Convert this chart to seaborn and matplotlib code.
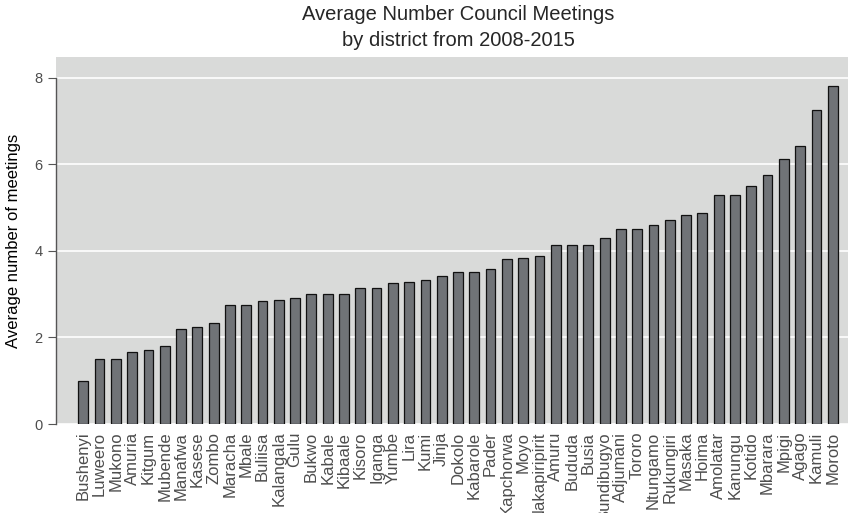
import pandas as pd
import matplotlib
matplotlib.use("Agg")
import matplotlib.pyplot as plt
import seaborn as sns

# values
districts = [
    "Bushenyi", "Luweero", "Mukono", "Amuria", "Kitgum", "Mubende", "Manafwa",
    "Kasese", "Zombo", "Maracha", "Mbale", "Buliisa", "Kalangala", "Gulu",
    "Bukwo", "Kabale", "Kibaale", "Kisoro", "Iganga", "Yumbe", "Lira", "Kumi",
    "Jinja", "Dokolo", "Kabarole", "Pader", "Kapchorwa", "Moyo",
    "Nakapiripirit", "Amuru", "Bududa", "Busia", "Bundibugyo", "Adjumani",
    "Tororo", "Ntungamo", "Rukungiri", "Masaka", "Hoima", "Amolatar",
    "Kanungu", "Kotido", "Mbarara", "Mpigi", "Agago", "Kamuli", "Moroto",
]
meetings = [
    1.0, 1.5, 1.5, 1.67, 1.71, 1.8, 2.2,
    2.25, 2.33, 2.75, 2.75, 2.83, 2.86, 2.9,
    3.0, 3.0, 3.0, 3.13, 3.14, 3.25, 3.29, 3.33,
    3.43, 3.5, 3.5, 3.57, 3.8, 3.83,
    3.88, 4.13, 4.13, 4.13, 4.29, 4.5,
    4.5, 4.6, 4.71, 4.83, 4.88, 5.29,
    5.29, 5.5, 5.75, 6.13, 6.43, 7.25, 7.8,
]
y_ticks = [0, 2, 4, 6, 8]

df = pd.DataFrame({"district": districts, "meetings": meetings})

sns.set_style("white")
plt.rcParams["font.family"] = ["Liberation Sans", "DejaVu Sans"]

fig = plt.figure(figsize=(8.48, 5.13), dpi=100)
# panel runs a little past the right edge, like the cropped original
ax = fig.add_axes([56 / 848, 1 - 424 / 513, 804 / 848, (424 - 57.3) / 513])
ax.set_facecolor("#d9dad9")

sns.barplot(data=df, x="district", y="meetings", color="#707377",
            saturation=1, edgecolor="#111111", linewidth=0.9, width=0.6,
            ax=ax, zorder=3)

ax.set_xlim(-1.676, len(districts) - 1 + 1.676)
ax.set_ylim(0, 8.47)
ax.set_yticks(y_ticks)
ax.grid(axis="y", color="white", linewidth=1.2, zorder=0)
ax.grid(axis="x", visible=False)
ax.set_axisbelow(True)

for side in ["top", "right", "bottom"]:
    ax.spines[side].set_visible(False)
ax.spines["left"].set_color("#555555")
ax.spines["left"].set_linewidth(1.0)
ax.spines["left"].set_bounds(0, 8)

ax.tick_params(axis="y", length=6, width=0.8, color="#555555", pad=3.5,
               labelsize=10.5, labelcolor="#4d4d4d", left=True)
ax.tick_params(axis="x", length=0, pad=5.5, labelsize=12,
               labelcolor="#4d4d4d", bottom=False)
plt.setp(ax.get_xticklabels(), rotation=90, ha="center", va="top")

ax.set_xlabel("")
ax.set_ylabel("Average number of meetings", fontsize=12, color="black",
              labelpad=10)

fig.text(458 / 848, 1 - 14 / 513, "Average Number Council Meetings",
         ha="center", va="center", fontsize=14.5)
fig.text(458 / 848, 1 - 40 / 513, "by district from 2008-2015",
         ha="center", va="center", fontsize=14.5)

fig.savefig("out.png", dpi=100)
